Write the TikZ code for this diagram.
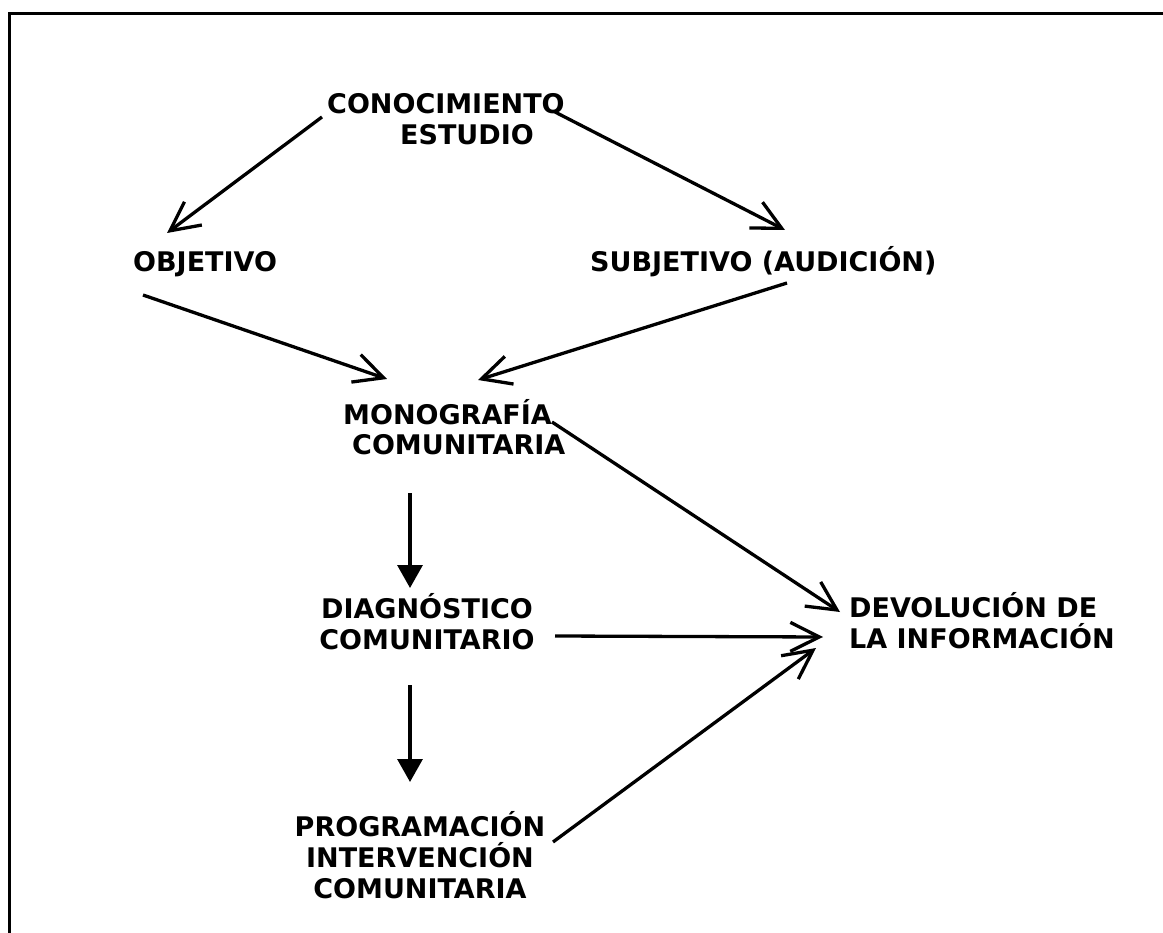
\documentclass[tikz,border=0pt]{standalone}
\usepackage{fontspec}
\setmainfont{DejaVu Sans}
\usetikzlibrary{positioning,arrows.meta}
\tikzstyle{textnode} = [inner sep=0pt, font=\fontsize{27pt}{31pt}\selectfont\bfseries]
\tikzstyle{connect} = [line width=3.3pt, -{Straight Barb[length=29pt,width=29pt]}]
\tikzstyle{descend} = [line width=3.3pt, -{Triangle[length=23pt,width=25pt]}]

\begin{document}
\begin{tikzpicture}[x=1pt,y=-1pt]
			\path[use as bounding box, clip] (0,0) rectangle (1163,933);
			\draw[line width=3.5pt] (9.5,960) -- (9.5,13.5) -- (1190,13.5);
			%-----------------------------------------------
			\node (conoc) [textnode, anchor=base west, align=left] at (327,145) {CONOCIMIENTO\\\hspace*{73pt}ESTUDIO};
			\node (objetivo) [textnode, anchor=base west] at (133,272) {OBJETIVO};
			\node (subjetivo) [textnode, anchor=base west] at (590,272) {SUBJETIVO (AUDICIÓN)};
			%-----------------------------------------------
			\node (monografia) [textnode, anchor=base west, align=left] at (343,455) {MONOGRAFÍA\\\hspace*{9pt}COMUNITARIA};
			\node (diagnostico) [textnode, anchor=base, align=center] at (427,649) {DIAGNÓSTICO\\COMUNITARIO};
			\node (programacion) [textnode, anchor=base, align=center] at (420,898) {PROGRAMACIÓN\\INTERVENCIÓN\\COMUNITARIA};
			%-----------------------------------------------
			\node (devolucion) [textnode, anchor=base west, align=left] at (849,648) {DEVOLUCIÓN DE\\LA INFORMACIÓN};
			
			%-----------------------------------------------
			%-----------------------------------------------
			
			\draw [connect] ([shift={(-5,-28)}]conoc.base west) -- ([shift={(34,-39)}]objetivo.base west);
			\draw [connect] ([shift={(228,-33)}]conoc.base west) -- ([shift={(195,-42)}]subjetivo.base west);
			\draw [connect] ([shift={(10,23)}]objetivo.base west) -- ([shift={(44,-76)}]monografia.base west);
			\draw [connect] ([shift={(197,11)}]subjetivo.base west) -- ([shift={(135,-75)}]monografia.base west);
			\draw [connect] ([shift={(209,-33)}]monografia.base west) -- ([shift={(-9,-36)}]devolucion.base west);
			\draw [descend] ([shift={(67,38)}]monografia.base west) -- ([shift={(-17,-61)}]diagnostico.base);
			\draw [connect] ([shift={(128,-13)}]diagnostico.base) -- ([shift={(-26,-11)}]devolucion.base west);
			\draw [descend] ([shift={(-17,36)}]diagnostico.base) -- ([shift={(-10,-116)}]programacion.base);
			\draw [connect] ([shift={(133,-56)}]programacion.base) -- ([shift={(-33,0)}]devolucion.base west);
\end{tikzpicture}
\end{document}
